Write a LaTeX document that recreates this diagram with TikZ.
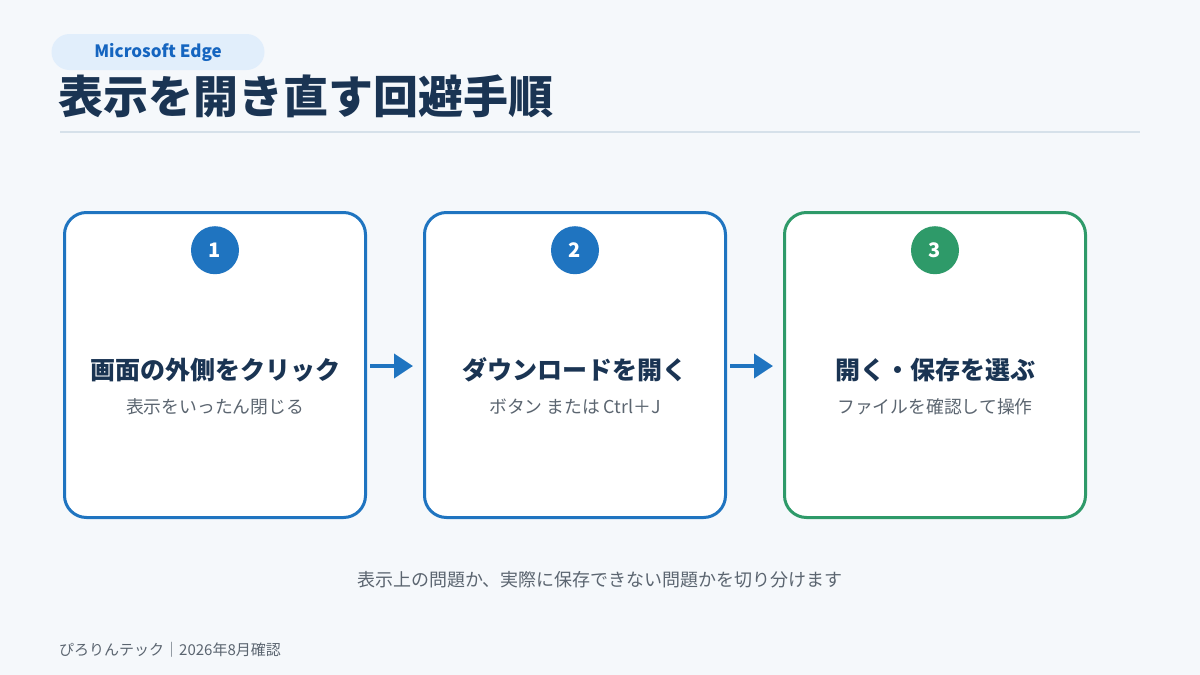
\documentclass[tikz,border=0pt]{standalone}
\usepackage{fontspec}
\setmainfont{Noto Sans CJK JP}
\usetikzlibrary{positioning,arrows.meta}

\definecolor{pagebg}{HTML}{F5F8FB}
\definecolor{pillbg}{HTML}{E1EEFB}
\definecolor{edgeblue}{HTML}{1565C0}
\definecolor{navy}{HTML}{1A3453}
\definecolor{rulegray}{HTML}{D6E1EA}
\definecolor{stepblue}{HTML}{1F74C0}
\definecolor{stepgreen}{HTML}{2E9A69}
\definecolor{subgray}{HTML}{5B6570}

\tikzset{
  stepcard/.style={draw=#1, line width=3pt, fill=white, rounded corners=22pt,
    minimum width=301pt, minimum height=305pt},
  stepnum/.style={circle, fill=#1, minimum size=48pt, inner sep=0pt,
    text=white, font=\bfseries\fontsize{20}{24}\selectfont},
  heading/.style={text=navy, font=\bfseries\fontsize{25}{30}\selectfont},
  subline/.style={text=subgray, font=\fontsize{17.8}{21}\selectfont},
  flow/.style={stepblue, line width=4pt, -{Triangle[length=19pt,width=24pt]}},
}

\begin{document}
\begin{tikzpicture}[x=1pt, y=-1pt]
  % page
  \fill[pagebg] (0,0) rectangle (1200,675);
  \useasboundingbox (0,0) rectangle (1200,675);

  % header
  \node[fill=pillbg, rounded corners=18pt, minimum width=213pt, minimum height=36pt,
    text=edgeblue, font=\bfseries\fontsize{17}{20}\selectfont] (pill) at (158,52) {Microsoft Edge};
  \node[anchor=west, inner sep=0pt, text=navy, font=\bfseries\fontsize{45}{54}\selectfont]
    (title) at (58,96) {表示を開き直す回避手順};
  \draw[rulegray, line width=2pt] (60,132) -- (1140,132);

  % three steps
  \node[stepcard=stepblue] (card1) at (215,365) {};
  \node[stepcard=stepblue] (card2) at (575,365) {};
  \node[stepcard=stepgreen] (card3) at (935,365) {};

  \node[stepnum=stepblue, below=15pt of card1.north] (num1) {1};
  \node[stepnum=stepblue, below=15pt of card2.north] (num2) {2};
  \node[stepnum=stepgreen, below=15pt of card3.north] (num3) {3};

  \node[heading] (head1) at (215,370) {画面の外側をクリック};
  \node[heading] (head2) at (575,370) {ダウンロードを開く};
  \node[heading] (head3) at (935,370) {開く・保存を選ぶ};

  \node[subline] (sub1) at (215,407) {表示をいったん閉じる};
  \node[subline] (sub2) at (575,407) {ボタン または Ctrl＋J};
  \node[subline] (sub3) at (935,407) {ファイルを確認して操作};

  % arrows between cards
  \draw[flow, shorten <=3pt, shorten >=10pt] (card1.east |- 0,366) -- (card2.west |- 0,366);
  \draw[flow, shorten <=3pt, shorten >=10pt] (card2.east |- 0,366) -- (card3.west |- 0,366);

  % notes
  \node[subline, font=\fontsize{18}{22}\selectfont] (note) at (600,580)
    {表示上の問題か、実際に保存できない問題かを切り分けます};
  \node[anchor=west, inner sep=0pt, text=subgray, font=\fontsize{15}{18}\selectfont]
    (footer) at (59,650) {ぴろりんテック｜2026年8月確認};
\end{tikzpicture}
\end{document}
